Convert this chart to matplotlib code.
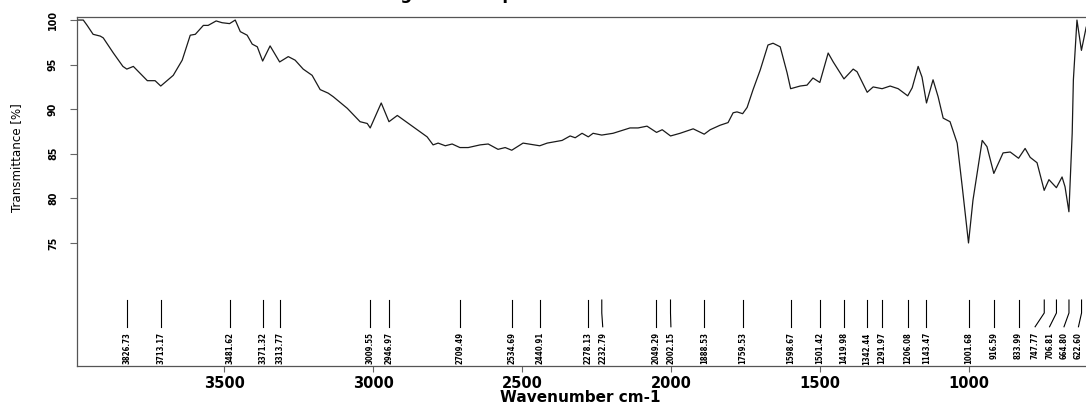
import matplotlib.pyplot as plt
from matplotlib import font_manager
import numpy as np

# IR transmittance trace, wavenumber in cm-1 (high to low)
wavenumber = [3990, 3973, 3960, 3940, 3916, 3906, 3872, 3840, 3827, 3805,
              3758, 3732, 3713, 3671, 3641, 3614, 3597, 3570, 3554, 3527,
              3507, 3482, 3463, 3446, 3423, 3406, 3389, 3371, 3346, 3314,
              3285, 3262, 3235, 3205, 3178, 3151, 3134, 3087, 3044, 3020,
              3010, 2973, 2947, 2919, 2819, 2799, 2782, 2758, 2735, 2709,
              2681, 2641, 2614, 2581, 2557, 2535, 2497, 2441, 2416, 2366,
              2339, 2322, 2299, 2278, 2262, 2233, 2195, 2138, 2111, 2081,
              2049, 2030, 2002, 1970, 1926, 1889, 1869, 1836, 1809, 1792,
              1779, 1760, 1745, 1725, 1701, 1675, 1658, 1634, 1611, 1599,
              1567, 1544, 1524, 1501, 1473, 1456, 1420, 1389, 1376, 1342,
              1322, 1292, 1265, 1238, 1206, 1191, 1171, 1158, 1143, 1121,
              1104, 1087, 1064, 1040, 1023, 1002, 987, 956, 940, 917,
              886, 862, 834, 812, 795, 772, 748, 732, 707, 688,
              678, 665, 654, 650, 638, 623, 607]
transmittance = [100.0, 100.0, 99.4, 98.4, 98.2, 98.0, 96.3, 94.8, 94.5, 94.8,
                 93.2, 93.2, 92.6, 93.8, 95.5, 98.3, 98.4, 99.4, 99.4, 99.9,
                 99.7, 99.6, 100.0, 98.7, 98.3, 97.3, 97.0, 95.4, 97.1, 95.3,
                 95.9, 95.5, 94.5, 93.8, 92.2, 91.8, 91.4, 90.1, 88.6, 88.4,
                 87.9, 90.7, 88.6, 89.3, 86.9, 86.0, 86.2, 85.9, 86.1, 85.7,
                 85.7, 86.0, 86.1, 85.5, 85.7, 85.4, 86.2, 85.9, 86.2, 86.5,
                 87.0, 86.8, 87.3, 86.9, 87.3, 87.1, 87.3, 87.9, 87.9, 88.1,
                 87.4, 87.7, 87.0, 87.3, 87.8, 87.2, 87.7, 88.2, 88.5, 89.6,
                 89.7, 89.5, 90.2, 92.2, 94.4, 97.2, 97.4, 97.0, 94.1, 92.3,
                 92.6, 92.7, 93.5, 93.0, 96.3, 95.3, 93.4, 94.5, 94.2, 91.9,
                 92.5, 92.3, 92.6, 92.3, 91.5, 92.4, 94.8, 93.6, 90.7, 93.3,
                 91.4, 89.0, 88.6, 86.2, 81.3, 75.0, 79.8, 86.5, 85.8, 82.8,
                 85.1, 85.2, 84.5, 85.6, 84.6, 84.0, 80.9, 82.1, 81.2, 82.4,
                 81.3, 78.5, 87.3, 93.3, 100.0, 96.6, 99.2]

# picked peak positions
peaks = [3826.73, 3713.17, 3481.62, 3371.32, 3313.77, 3009.55, 2946.97,
         2709.49, 2534.69, 2440.91, 2278.13, 2232.79, 2049.29, 2002.15,
         1888.53, 1759.53, 1598.67, 1501.42, 1419.98, 1342.44, 1291.97,
         1206.08, 1143.47, 1001.68, 916.59, 833.99, 747.77, 706.81,
         664.80, 622.60]

xticks = [3500, 3000, 2500, 2000, 1500, 1000]
yticks = [75, 80, 85, 90, 95, 100]

# a narrow face for the vertical texts, if one is around
fonts = font_manager.fontManager.ttflist
names = {f.name for f in fonts}
vert = dict(family=['Liberation Sans', 'DejaVu Sans'])
vscale = 1.0
if 'Liberation Sans Narrow' in names:
    vert = dict(family=['Liberation Sans Narrow', 'DejaVu Sans'])
    vscale = 1.22
elif any(f.name == 'DejaVu Sans' and f.stretch == 'condensed' for f in fonts):
    vert = dict(family=['DejaVu Sans'], fontstretch='condensed')
    vscale = 0.9
wide = ['DejaVu Sans']

fig = plt.figure(figsize=(10.86, 4.09), dpi=100)
ax = fig.add_axes([0.0712, 0.1051, 0.9309, 0.8533])

ax.plot(wavenumber, transmittance, color='#1a1a1a', lw=0.9)
ax.set_xlim(3993, 600)
ax.set_ylim(61.2, 100.34)

# spread crowded peak labels so they don't overlap
gap = 48.5
right_bound = 633
pos = sorted(peaks, reverse=True)
for i in range(1, len(pos)):
    pos[i] = min(pos[i], pos[i - 1] - gap)
pos[-1] = max(pos[-1], right_bound)
for i in range(len(pos) - 2, -1, -1):
    pos[i] = max(pos[i], pos[i + 1] + gap)

for w, p in zip(sorted(peaks, reverse=True), pos):
    ax.plot([w, w, p], [68.6, 67.15, 65.6], color='black', lw=0.8)
    ax.text(p, 65.0, f"{w:.2f}", rotation=90, ha='center', va='top',
            fontsize=6.2 * vscale, fontweight='bold', **vert)

ax.set_xticks(xticks)
ax.set_xticklabels([str(t) for t in xticks], fontsize=10.5,
                   fontweight='bold', family=wide)
ax.set_yticks(yticks)
ax.set_yticklabels([str(t) for t in yticks], rotation=90, va='center',
                   fontsize=8.5 * vscale, fontweight='bold', **vert)
ax.tick_params(axis='x', length=4.3, width=0.8, color='#666666', pad=3)
ax.tick_params(axis='y', length=5, width=0.8, color='#666666', pad=9)

for s in ax.spines.values():
    s.set_color('#555555')
    s.set_linewidth(0.9)

ax.set_xlabel('Wavenumber cm-1', fontsize=11, fontweight='bold', family=wide)
ax.xaxis.set_label_coords(0.497, -0.069)
ax.set_ylabel('Transmittance [%]', fontsize=10.5 * vscale, va='center', **vert)
ax.yaxis.set_label_coords(-0.060, 0.596)

# title sits above the top edge of the figure, only its descenders show
fig.text(371 / 1086, 1 + 1.0 / 409, 'Single beam spectrum', ha='left',
         va='baseline', fontsize=12, fontweight='bold', family=wide)

fig.savefig('out.png', dpi=100)
